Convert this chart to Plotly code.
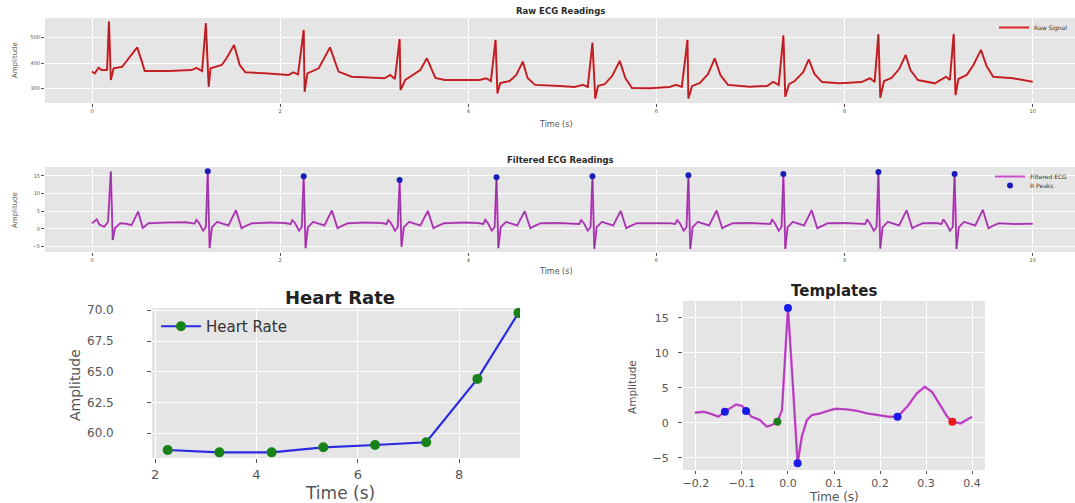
import plotly.graph_objects as go

# ---------------- data ----------------
raw_t = [0.00, 0.03, 0.07, 0.10, 0.16, 0.18, 0.20, 0.23, 0.32, 0.39, 0.48, 0.53, 0.56, 0.81, 1.06, 1.11, 1.17,
         1.21, 1.24, 1.26, 1.38, 1.43, 1.51, 1.57, 1.63, 1.87, 2.09, 2.14, 2.19,
         2.25, 2.26, 2.29, 2.41, 2.53, 2.62, 2.76, 3.11, 3.17, 3.22,
         3.27, 3.28, 3.33, 3.40, 3.49, 3.56, 3.65, 3.75, 4.02, 4.12, 4.19, 4.24,
         4.29, 4.31, 4.34, 4.44, 4.51, 4.58, 4.63, 4.71, 4.97, 5.13, 5.22, 5.27,
         5.32, 5.35, 5.38, 5.45, 5.53, 5.61, 5.67, 5.74, 5.93, 6.14, 6.21, 6.27,
         6.33, 6.34, 6.38, 6.46, 6.55, 6.62, 6.68, 6.76, 6.99, 7.18, 7.24, 7.30,
         7.35, 7.37, 7.41, 7.47, 7.56, 7.62, 7.68, 7.76, 7.95, 8.18, 8.27, 8.32,
         8.36, 8.38, 8.42, 8.50, 8.58, 8.65, 8.70, 8.78, 8.96, 9.08, 9.12,
         9.16, 9.18, 9.21, 9.30, 9.37, 9.45, 9.51, 9.58, 9.79, 10.00]
raw_v = [367, 360, 382, 373, 373, 563, 334, 380, 386, 419, 462, 406, 369, 369, 373, 382, 369,
         556, 308, 380, 393, 419, 471, 393, 364, 360, 354, 364, 356,
         530, 288, 360, 380, 462, 367, 347, 341, 354, 338,
         494, 295, 334, 350, 373, 419, 342, 334, 334, 334, 341, 330,
         491, 282, 322, 330, 354, 406, 342, 315, 311, 307, 315, 307,
         480, 262, 311, 318, 350, 409, 342, 303, 302, 307, 315, 307,
         491, 262, 311, 322, 358, 419, 354, 315, 308, 311, 327, 315,
         508, 269, 318, 330, 365, 415, 358, 326, 321, 326, 341, 326,
         514, 265, 330, 342, 377, 432, 373, 334, 321, 347, 334,
         514, 275, 338, 354, 393, 452, 389, 347, 341, 327]

filt_t = [0.00, 0.05, 0.08, 0.13, 0.17, 0.20, 0.22, 0.245, 0.30, 0.36, 0.42, 0.49, 0.54, 0.60, 0.80, 1.00,
          1.09, 1.11, 1.14, 1.18, 1.21, 1.23, 1.25, 1.275, 1.33, 1.45, 1.53, 1.59, 1.63, 1.70, 1.90, 2.05,
          2.11, 2.13, 2.16, 2.20, 2.23, 2.25, 2.27, 2.295, 2.35, 2.47, 2.55, 2.61, 2.65, 2.72, 2.90, 3.08,
          3.13, 3.15, 3.18, 3.22, 3.25, 3.27, 3.29, 3.315, 3.37, 3.49, 3.57, 3.63, 3.67, 3.74, 3.95, 4.10,
          4.16, 4.18, 4.21, 4.25, 4.28, 4.30, 4.32, 4.345, 4.40, 4.52, 4.60, 4.66, 4.70, 4.77, 4.95, 5.12,
          5.18, 5.20, 5.23, 5.27, 5.30, 5.32, 5.34, 5.365, 5.42, 5.54, 5.62, 5.68, 5.72, 5.79, 5.98, 6.14,
          6.20, 6.22, 6.25, 6.29, 6.32, 6.34, 6.36, 6.385, 6.44, 6.56, 6.64, 6.70, 6.74, 6.81, 7.00, 7.15,
          7.21, 7.23, 7.26, 7.30, 7.33, 7.35, 7.37, 7.395, 7.45, 7.57, 7.65, 7.71, 7.75, 7.82, 8.00, 8.16,
          8.22, 8.24, 8.27, 8.31, 8.34, 8.36, 8.38, 8.405, 8.46, 8.58, 8.66, 8.72, 8.76, 8.83, 8.97,
          9.03, 9.05, 9.08, 9.12, 9.15, 9.17, 9.19, 9.215, 9.27, 9.39, 9.47, 9.53, 9.57, 9.64, 9.80, 10.00]
filt_v = [1.6, 2.7, 1.2, 0.6, 2.0, 16.2, -3.1, 0.3, 1.6, 1.5, 1.1, 4.9, 0.3, 1.6, 1.8, 1.9,
          1.5, 2.6, 1.6, -0.5, 0.5, 16.3, -5.4, 0.5, 2.0, 1.0, 5.3, 0.2, 0.8, 1.6, 1.8, 1.7,
          1.4, 2.5, 1.6, -0.5, 0.5, 14.9, -5.4, 0.5, 2.0, 1.0, 5.2, 0.2, 0.8, 1.6, 1.8, 1.7,
          1.4, 2.5, 1.6, -0.5, 0.5, 13.8, -5.0, 0.5, 2.0, 1.0, 5.1, 0.2, 0.8, 1.6, 1.8, 1.7,
          1.4, 2.6, 1.6, -0.5, 0.5, 14.6, -5.4, 0.5, 2.0, 1.0, 5.0, 0.2, 0.8, 1.6, 1.7, 1.6,
          1.4, 2.5, 1.6, -0.5, 0.5, 14.9, -5.6, 0.5, 2.0, 1.0, 5.1, 0.2, 0.8, 1.6, 1.7, 1.6,
          1.4, 2.5, 1.6, -0.5, 0.5, 15.2, -5.6, 0.5, 2.0, 1.0, 5.2, 0.2, 0.8, 1.6, 1.7, 1.6,
          1.4, 2.6, 1.6, -0.5, 0.5, 15.5, -5.6, 0.5, 2.0, 1.0, 5.3, 0.2, 0.8, 1.6, 1.7, 1.6,
          1.4, 2.7, 1.6, -0.5, 0.5, 16.1, -5.5, 0.5, 2.0, 1.0, 5.3, 0.2, 0.8, 1.6, 1.7,
          1.4, 2.7, 1.6, -0.5, 0.5, 15.5, -5.6, 0.5, 2.0, 1.0, 5.4, 0.2, 0.8, 1.6, 1.4, 1.5]

rpeak_t = [1.23, 2.25, 3.27, 4.30, 5.32, 6.34, 7.35, 8.36, 9.17]
rpeak_v = [16.3, 14.9, 13.8, 14.6, 14.9, 15.2, 15.5, 16.1, 15.5]

hr_t = [2.25, 3.27, 4.30, 5.32, 6.34, 7.35, 8.36, 9.17]
hr_v = [58.64, 58.45, 58.45, 58.86, 59.05, 59.27, 64.43, 69.8]

tmpl_t = [-0.202, -0.184, -0.170, -0.151, -0.137, -0.126, -0.113, -0.100, -0.091, -0.079, -0.061,
          -0.046, -0.035, -0.023, -0.013, 0.000, 0.010, 0.021, 0.030, 0.041, 0.052, 0.070, 0.085,
          0.103, 0.128, 0.150, 0.172, 0.193, 0.219, 0.238, 0.259, 0.280, 0.297, 0.313, 0.331,
          0.346, 0.357, 0.375, 0.400]
tmpl_v = [1.43, 1.57, 1.33, 0.86, 1.57, 2.05, 2.60, 2.40, 1.67, 0.86, 0.38,
          -0.57, -0.33, 0.14, 1.80, 16.4, 6.1, -5.8, -2.0, 0.38, 1.10, 1.33, 1.67,
          2.00, 1.90, 1.70, 1.33, 1.10, 0.86, 0.86, 2.30, 4.20, 5.14, 4.40, 2.50,
          0.86, 0.14, -0.10, 0.86]
tmpl_blue_t = [-0.137, -0.091, 0.000, 0.021, 0.238]
tmpl_blue_v = [1.57, 1.67, 16.4, -5.8, 0.86]
tmpl_green_t = [-0.023]
tmpl_green_v = [0.14]
tmpl_red_t = [0.357]
tmpl_red_v = [0.14]

hr_yticks = [60, 62.5, 65, 67.5, 70]
hr_ylabels = ["60.0", "62.5", "65.0", "67.5", "70.0"]
tm_xticks = [-0.2, -0.1, 0, 0.1, 0.2, 0.3, 0.4]
tm_xlabels = ["\u22120.2", "\u22120.1", "0.0", "0.1", "0.2", "0.3", "0.4"]
tm_yticks = [-5, 0, 5, 10, 15]
tm_ylabels = ["\u22125", "0", "5", "10", "15"]

# ---------------- figure ----------------
W, H = 1075, 503
FONT = "DejaVu Sans"
BG = "#E5E5E5"
TICKC = "#555555"
NB = "\u00a0"


def px(x):
    return x / W


def py(y):
    return 1 - y / H


fig = go.Figure()

fig.add_trace(go.Scatter(x=raw_t, y=raw_v, mode="lines", name="Raw Signal",
                         line=dict(color="#e3262b", width=2), xaxis="x", yaxis="y", legend="legend"))
fig.add_trace(go.Scatter(x=raw_t, y=raw_v, mode="lines", showlegend=False, hoverinfo="skip",
                         line=dict(color="#8e1f22", width=0.7), xaxis="x", yaxis="y"))
fig.add_trace(go.Scatter(x=filt_t, y=filt_v, mode="lines", name="Filtered ECG",
                         line=dict(color="#c94ccc", width=2), xaxis="x2", yaxis="y2", legend="legend2"))
fig.add_trace(go.Scatter(x=filt_t, y=filt_v, mode="lines", showlegend=False, hoverinfo="skip",
                         line=dict(color="#7a2a8a", width=0.7), xaxis="x2", yaxis="y2"))
fig.add_trace(go.Scatter(x=rpeak_t, y=rpeak_v, mode="markers", name="R Peaks",
                         marker=dict(color="#1c1cb8", size=6), xaxis="x2", yaxis="y2", legend="legend4"))
fig.add_trace(go.Scatter(x=hr_t, y=hr_v, mode="lines+markers", name="Heart Rate",
                         line=dict(color="#2a2ae0", width=2.2),
                         marker=dict(color="#178217", size=10),
                         xaxis="x3", yaxis="y3", legend="legend3"))
fig.add_trace(go.Scatter(x=tmpl_t, y=tmpl_v, mode="lines", showlegend=False,
                         line=dict(color="#d54ad8", width=2.4), xaxis="x4", yaxis="y4"))
fig.add_trace(go.Scatter(x=tmpl_t, y=tmpl_v, mode="lines", showlegend=False, hoverinfo="skip",
                         line=dict(color="#8a3a9a", width=0.8), xaxis="x4", yaxis="y4"))
fig.add_trace(go.Scatter(x=tmpl_blue_t, y=tmpl_blue_v, mode="markers", showlegend=False,
                         marker=dict(color="#1a1ae6", size=8), xaxis="x4", yaxis="y4"))
fig.add_trace(go.Scatter(x=tmpl_green_t, y=tmpl_green_v, mode="markers", showlegend=False,
                         marker=dict(color="#1f7a1f", size=8), xaxis="x4", yaxis="y4"))
fig.add_trace(go.Scatter(x=tmpl_red_t, y=tmpl_red_v, mode="markers", showlegend=False,
                         marker=dict(color="#e61a1a", size=8), xaxis="x4", yaxis="y4"))


def ax(domain, rng, tickvals, size, anchor, ticktext=None, ticklen=3, suffix=None, labels=True):
    d = dict(domain=domain, range=rng, tickvals=tickvals, anchor=anchor,
             showgrid=True, gridcolor="white", gridwidth=1, zeroline=False, showline=False,
             ticks="outside", ticklen=ticklen, tickcolor=TICKC, tickwidth=1,
             tickfont=dict(family=FONT, size=size, color=TICKC), automargin=False,
             showticklabels=labels)
    if ticktext is not None:
        d["ticktext"] = ticktext
    if suffix is not None:
        d["ticksuffix"] = suffix
    return d


top_x = [px(45), 1.0]
fig.update_layout(
    xaxis=ax(top_x, [-0.5, 10.45], [0, 2, 4, 6, 8, 10], 5, "y"),
    yaxis=ax([py(103), py(18)], [244, 577], [300, 400, 500], 5, "x", suffix=NB * 2),
    xaxis2=ax(top_x, [-0.5, 10.45], [0, 2, 4, 6, 8, 10], 5, "y2"),
    yaxis2=ax([py(252), py(167)], [-6.5, 17.5], [-5, 0, 5, 10, 15], 5, "x2", suffix=NB * 2),
    xaxis3=ax([px(152), px(520)], [1.94, 9.2], [2, 4, 6, 8], 13, "y3", ticklen=4),
    yaxis3=ax([py(458), py(308)], [57.99, 70.2], hr_yticks, 12, "x3", ticklen=4, labels=False),
    xaxis4=ax([px(683), px(985)], [-0.228, 0.428], tm_xticks, 11, "y4",
              ticktext=tm_xlabels, ticklen=3),
    yaxis4=ax([py(470), py(301)], [-6.76, 17.4], tm_yticks, 11, "x4",
              ticktext=[s + NB * 2 for s in tm_ylabels], ticklen=4),
)

small_legend = dict(xanchor="left", yanchor="top", bgcolor="rgba(0,0,0,0)",
                    font=dict(family=FONT, size=6, color="#333"), itemwidth=30, tracegroupgap=0)
fig.update_layout(
    width=W, height=H, margin=dict(l=0, r=0, t=0, b=0, autoexpand=False),
    paper_bgcolor="white", plot_bgcolor=BG,
    font=dict(family=FONT, color="#333333"),
    legend=dict(x=px(994), y=py(13), **small_legend),
    legend2=dict(x=px(990), y=py(162), **small_legend),
    legend4=dict(x=px(990), y=py(171), **small_legend),
    legend3=dict(x=px(156), y=py(310), xanchor="left", yanchor="top", bgcolor="rgba(0,0,0,0)",
                 font=dict(family=FONT, size=15, color="#333"), itemwidth=40),
)

ann = []


def text(x, y, s, size, color="#333333", angle=0, xanchor="center", yref=None):
    a = dict(x=px(x), y=py(y) if yref is None else y, xref="paper", yref="paper" if yref is None else yref,
             text=s, showarrow=False, xanchor=xanchor, yanchor="middle", textangle=angle,
             font=dict(family=FONT, size=size, color=color))
    ann.append(a)


text(560, 11, "<b>Raw ECG Readings</b>", 8.5, "#2a2a2a")
text(556, 124, "Time (s)", 8, "#555")
text(15, 60, "Amplitude", 7, "#555", -90)
text(560, 160, "<b>Filtered ECG Readings</b>", 8.5, "#2a2a2a")
text(556, 271, "Time (s)", 8, "#555")
text(15, 210, "Amplitude", 7, "#555", -90)
text(340, 297, "<b>Heart Rate</b>", 18, "#222222")
text(340, 493, "Time (s)", 17, "#555")
text(75, 385, "Amplitude", 14, "#555", -90)
text(834, 291, "<b>Templates</b>", 15, "#222222")
text(834, 497, "Time (s)", 12, "#555")
text(632, 387, "Amplitude", 10.5, "#555", -90)
for v, s in zip(hr_yticks, hr_ylabels):
    text(116, v, s, 12, "#555", xanchor="right", yref="y3")
fig.update_layout(annotations=ann)

fig.write_html("out.html", config={"displayModeBar": False},
               post_script="document.body.style.margin='0';document.body.style.overflow='hidden';")
